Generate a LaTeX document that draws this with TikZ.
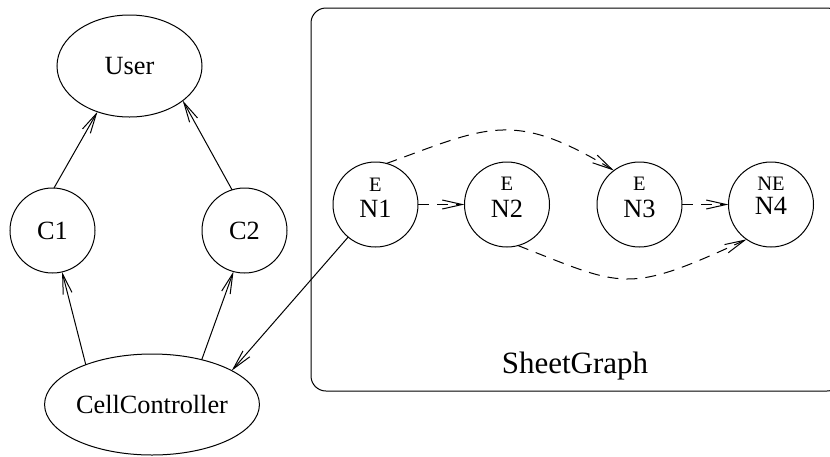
\documentclass[tikz,border=0pt]{standalone}
\usepackage{fontspec}
\setmainfont{Liberation Serif}
\usetikzlibrary{shapes.geometric,arrows.meta,calc}

\tikzset{
  every node/.style={inner sep=0pt, outer sep=0pt},
  oval/.style={draw, ellipse, line width=1pt, font=\fontsize{26.3}{29}\selectfont},
  ring/.style={draw, circle, line width=1pt, minimum size=85pt, font=\fontsize{26.3}{29}\selectfont},
  ntitle/.style={anchor=base, font=\fontsize{26.3}{29}\selectfont},
  nkind/.style={anchor=base, font=\fontsize{20.5}{22}\selectfont},
  link/.style={line width=1pt, -{Straight Barb[length=20pt,width=9pt,line width=1pt]}},
  dlink/.style={link, dash pattern=on 11pt off 8pt},
}

\begin{document}
\begin{tikzpicture}[x=1pt, y=-1pt]
\useasboundingbox (0,0) rectangle (830,456);

% left part: user, controllers, cell controller
\node[oval, minimum width=145pt, minimum height=102pt] (user) at (129.5,66) {User};
\node[ring] (c1) at (52.5,230.5) {C1};
\node[ring] (c2) at (244.5,230.5) {C2};
\node[oval, minimum width=192pt, minimum height=101pt] (cc) at (152,404.5) {CellController};

% sheet graph frame
\draw[line width=1pt, rounded corners=15pt] (311,8) rectangle (842,391);
\node[anchor=base, font=\fontsize{31}{33}\selectfont] (sg) at (575,373.5) {SheetGraph};

% graph nodes
\foreach \i/\x in {1/375.5, 2/507, 3/639.5, 4/771} {
  \node[ring] (n\i) at (\x,204.5) {};
}
\node[nkind] (k1) at ($(n1)+(0,-13.5)$) {E};
\node[ntitle] (t1) at ($(n1)+(0,12.5)$) {N1};
\node[nkind] (k2) at ($(n2)+(0,-14.5)$) {E};
\node[ntitle] (t2) at ($(n2)+(0,12.5)$) {N2};
\node[nkind] (k3) at ($(n3)+(0,-14.5)$) {E};
\node[ntitle] (t3) at ($(n3)+(0,12.5)$) {N3};
\node[nkind] (k4) at ($(n4)+(0,-14.5)$) {NE};
\node[ntitle] (t4) at ($(n4)+(0,9.5)$) {N4};

% solid connectors
\draw[link] (c1.88) -- (user.235);
\draw[link] (c2.107) -- (user.-33);
\draw[link] (cc.149) -- (c1.-77);
\draw[link] (cc.42) -- (c2.-105);
\draw[link] (n1.-130) -- (cc.23);

% dashed connectors
\draw[dlink] (n1.east) -- (n2.west);
\draw[dlink] (n3.east) -- (n4.west);
\draw[dlink] (n1.75) .. controls (487,127) and (513,109) .. (n3.127);
\draw[dlink] (n2.-75) .. controls (624,287) and (626,295) .. (n4.-125);
\end{tikzpicture}
\end{document}
